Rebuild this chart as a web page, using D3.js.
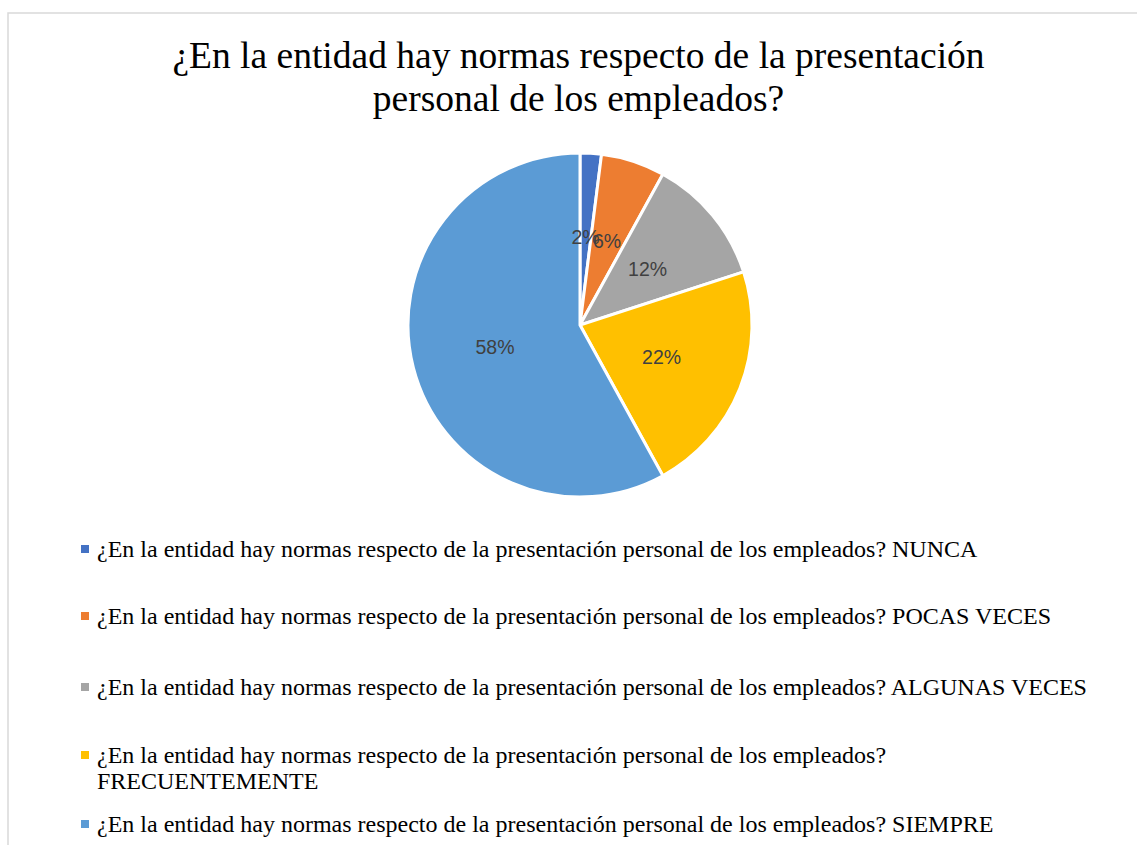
<!DOCTYPE html>
<html>
<head>
<meta charset="utf-8">
<script src="https://cdn.jsdelivr.net/npm/d3@7"></script>
<style>
  body { margin: 0; background: #fff; }
  svg { display: block; }
</style>
</head>
<body>
<div id="chart"></div>
<script>
const width = 1137, height = 845;

const question = "¿En la entidad hay normas respecto de la presentación personal de los empleados?";
const categories = ["NUNCA", "POCAS VECES", "ALGUNAS VECES", "FRECUENTEMENTE", "SIEMPRE"];
const values = [2, 6, 12, 22, 58];
const colors = ["#4472c4", "#ed7d31", "#a5a5a5", "#ffc000", "#5b9bd5"];
const titleLines = ["¿En la entidad hay normas respecto de la presentación", "personal de los empleados?"];

const data = categories.map((c, i) => ({ name: c, value: values[i] }));

const svg = d3.select("#chart").append("svg")
  .attr("width", width)
  .attr("height", height);

// chart frame
svg.append("rect")
  .attr("x", 8).attr("y", 13)
  .attr("width", width).attr("height", height)
  .attr("fill", "none")
  .attr("stroke", "#d9d9d9")
  .attr("stroke-width", 1.5);

svg.append("text")
  .attr("text-anchor", "middle")
  .attr("font-family", "'Liberation Serif', 'Times New Roman', serif")
  .attr("font-size", 37.5)
  .attr("fill", "#000")
  .selectAll("tspan")
  .data(titleLines)
  .join("tspan")
  .attr("x", 578.5)
  .attr("y", (d, i) => 68 + i * 43)
  .text(d => d);

const cx = 580, cy = 325, r = 172;

const pie = d3.pie().value(d => d.value).sort(null);
const arc = d3.arc().innerRadius(0).outerRadius(r);
const labelArc = d3.arc().innerRadius(r * 0.51).outerRadius(r * 0.51);

const g = svg.append("g").attr("transform", `translate(${cx},${cy})`);

g.selectAll("path")
  .data(pie(data))
  .join("path")
  .attr("d", arc)
  .attr("fill", (d, i) => colors[i])
  .attr("stroke", "#fff")
  .attr("stroke-width", 3);

const total = d3.sum(values);
g.selectAll("text.lbl")
  .data(pie(data))
  .join("text")
  .attr("class", "lbl")
  .attr("transform", d => `translate(${labelArc.centroid(d)})`)
  .attr("text-anchor", "middle")
  .attr("dy", "0.35em")
  .attr("font-family", "'Liberation Sans', Arial, sans-serif")
  .attr("font-size", 19.5)
  .attr("fill", "#404040")
  .text(d => d3.format(".0%")(d.data.value / total));

// legend
const legend = svg.append("g")
  .attr("font-family", "'Liberation Serif', 'Times New Roman', serif")
  .attr("font-size", 24)
  .attr("fill", "#000");

const rowY = [557, 624, 695, 763, 832];
const maxW = 1000;

data.forEach((d, i) => {
  const row = legend.append("g");
  row.append("rect")
    .attr("x", 81).attr("y", rowY[i] - 12)
    .attr("width", 8).attr("height", 8)
    .attr("fill", colors[i]);
  const t = row.append("text").attr("x", 97).attr("y", rowY[i]);
  const full = question + " " + d.name;
  t.text(full);
  if (t.node().getComputedTextLength() > maxW) {
    t.text(null);
    t.append("tspan").attr("x", 97).attr("y", rowY[i]).text(question);
    t.append("tspan").attr("x", 97).attr("y", rowY[i] + 26).text(d.name);
  }
});
</script>
</body>
</html>
